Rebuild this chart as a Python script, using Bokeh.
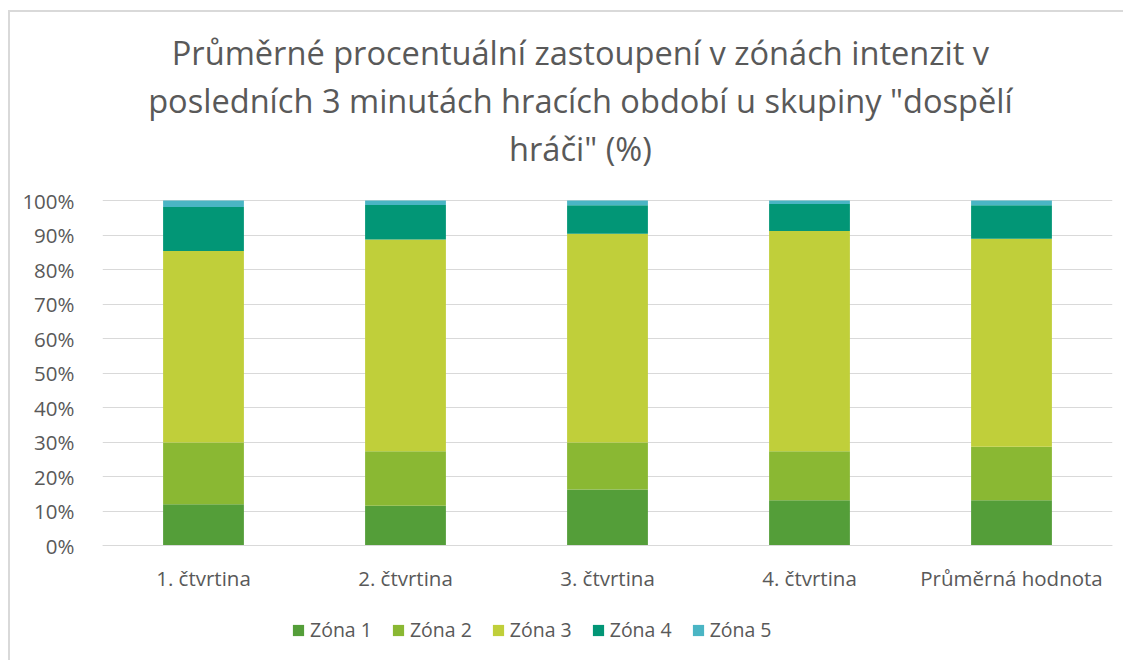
from bokeh.plotting import figure
from bokeh.models import (ColumnDataSource, FactorRange, Range1d, FixedTicker,
                          PrintfTickFormatter, Legend, LegendItem, Label)
from bokeh.embed import file_html
from bokeh.resources import INLINE

# ---- data (percent) ----
categories = ["1. čtvrtina", "2. čtvrtina", "3. čtvrtina", "4. čtvrtina", "Průměrná hodnota"]
zona1 = [12.0, 11.6, 16.3, 13.2, 13.2]
zona2 = [17.9, 15.8, 13.6, 14.2, 15.5]
zona3 = [55.5, 61.3, 60.5, 63.8, 60.2]
zona4 = [12.7, 10.0, 8.2, 7.8, 9.7]
zona5 = [1.9, 1.3, 1.4, 1.0, 1.4]
series_names = ["Zóna 1", "Zóna 2", "Zóna 3", "Zóna 4", "Zóna 5"]
y_ticks = [0, 10, 20, 30, 40, 50, 60, 70, 80, 90, 100]
title_lines = ["Průměrné procentuální zastoupení v zónách intenzit v",
               "posledních 3 minutách hracích období u skupiny \"dospělí",
               "hráči\" (%)"]

colors = ["#549E39", "#8AB833", "#C0CF3A", "#029676", "#4AB5C4"]
TEXT = "#595959"
FONT = "Open Sans"

keys = ["z1", "z2", "z3", "z4", "z5"]
source = ColumnDataSource(dict(cat=categories, z1=zona1, z2=zona2, z3=zona3, z4=zona4, z5=zona5))

# The frame spans the whole canvas height so that the title and legend (which are
# clipped to the frame) can be drawn inside it; the y range is extended accordingly.
p = figure(x_range=FactorRange(*categories, range_padding=0), y_range=Range1d(-33.8, 154.45),
           width=1115, height=650, output_backend="svg", toolbar_location=None, title=None,
           min_border_left=92, min_border_right=13, min_border_top=0, min_border_bottom=0)

renderers = p.vbar_stack(keys, x="cat", width=0.4, color=colors, line_color=None, source=source)

p.outline_line_color = None
p.background_fill_color = "white"
p.border_fill_color = "white"
p.xgrid.grid_line_color = None
p.ygrid.grid_line_color = "#D9D9D9"
p.ygrid.grid_line_width = 1

p.yaxis.ticker = FixedTicker(ticks=y_ticks)
p.yaxis.formatter = PrintfTickFormatter(format="%d%%")
p.yaxis.axis_line_color = None
p.yaxis.major_tick_line_color = None
p.yaxis.minor_tick_line_color = None
p.yaxis.major_label_standoff = 22
p.yaxis.major_label_text_font = FONT
p.yaxis.major_label_text_font_size = "20.5px"
p.yaxis.major_label_text_color = TEXT

p.xaxis.fixed_location = 0
p.xaxis.axis_line_color = "#D9D9D9"
p.xaxis.major_tick_line_color = None
p.xaxis.minor_tick_line_color = None
p.xaxis.major_label_standoff = 12
p.xaxis.major_label_text_font = FONT
p.xaxis.major_label_text_font_size = "20.5px"
p.xaxis.major_label_text_color = TEXT

title_y = [142.87, 128.96, 115.06]
for line, ty in zip(title_lines, title_y):
    p.add_layout(Label(x=2.366, y=ty, text=line, text_align="center", text_baseline="middle",
                       text_font=FONT, text_font_size="32.6px", text_color=TEXT))

legend = Legend(items=[LegendItem(label=n, renderers=[r]) for n, r in zip(series_names, renderers)],
                orientation="horizontal", location=(189, 19))
legend.padding = 0
legend.margin = 0
legend.spacing = 19
legend.border_line_color = None
legend.background_fill_alpha = 0
legend.glyph_width = 14
legend.glyph_height = 14
legend.label_standoff = 5
legend.label_text_font = FONT
legend.label_text_font_size = "19.5px"
legend.label_text_color = TEXT
p.add_layout(legend, "center")

p.styles = {"margin-left": "8px", "margin-top": "10px",
            "border-top": "2px solid #D9D9D9", "border-left": "2px solid #D9D9D9"}

open("out.html", "w").write(file_html(p, INLINE))
